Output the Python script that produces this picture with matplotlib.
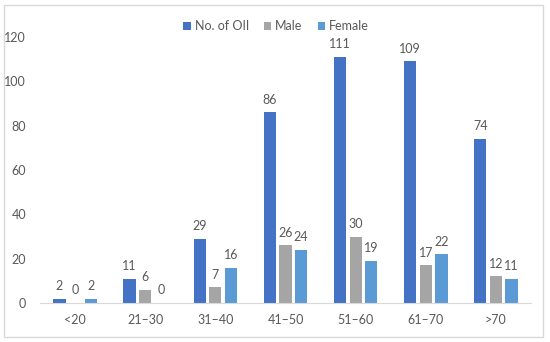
import matplotlib
matplotlib.use("Agg")
import matplotlib.pyplot as plt
from matplotlib.patches import Rectangle
import numpy as np

plt.rcParams["font.family"] = ["Lato", "DejaVu Sans"]

categories = ["<20", "21\u201330", "31\u201340", "41\u201350", "51\u201360", "61\u201370", ">70"]
oii = [2, 11, 29, 86, 111, 109, 74]
male = [0, 6, 7, 26, 30, 17, 12]
female = [2, 0, 16, 24, 19, 22, 11]
yticks = [0, 20, 40, 60, 80, 100, 120]

series = [
    ("No. of OII", oii, "#4472C4"),
    ("Male", male, "#A5A5A5"),
    ("Female", female, "#5B9BD5"),
]
txt = "#595959"

fig = plt.figure(figsize=(5.5, 3.42), dpi=100)
fig.patches.append(Rectangle((4 / 550, 5 / 342), 539 / 550, 332 / 342,
                             transform=fig.transFigure, fill=False,
                             edgecolor="#D9D9D9", linewidth=1))
ax = fig.add_axes([40 / 550, 39 / 342, 491 / 550, 266 / 342])

x = np.arange(len(categories))
step = 0.223
width = 0.175
for i, (name, vals, color) in enumerate(series):
    pos = x + (i - 1) * step
    bars = ax.bar(pos, vals, width=width, color=color, label=name)
    for b, v in zip(bars, vals):
        ax.text(b.get_x() + b.get_width() / 2, v + 3, str(v),
                ha="center", va="bottom", fontsize=9, color=txt)

ax.set_xlim(-0.5, len(categories) - 0.5)
ax.set_ylim(0, 120)
ax.set_yticks(yticks)
ax.set_xticks(x)
ax.set_xticklabels(categories)
ax.tick_params(axis="both", length=0, labelsize=9, colors=txt)
ax.tick_params(axis="y", pad=10)
ax.tick_params(axis="x", pad=8)
for s in ["top", "right", "left"]:
    ax.spines[s].set_visible(False)
ax.spines["bottom"].set_color("#D9D9D9")

leg = fig.legend(loc="center", bbox_to_anchor=(276 / 550, 1 - 26 / 342),
                 ncol=3, frameon=False, fontsize=9, handlelength=0.6,
                 handleheight=0.6, handletextpad=0.3, columnspacing=1.2)
for t in leg.get_texts():
    t.set_color(txt)

fig.savefig("out.png", dpi=100)
